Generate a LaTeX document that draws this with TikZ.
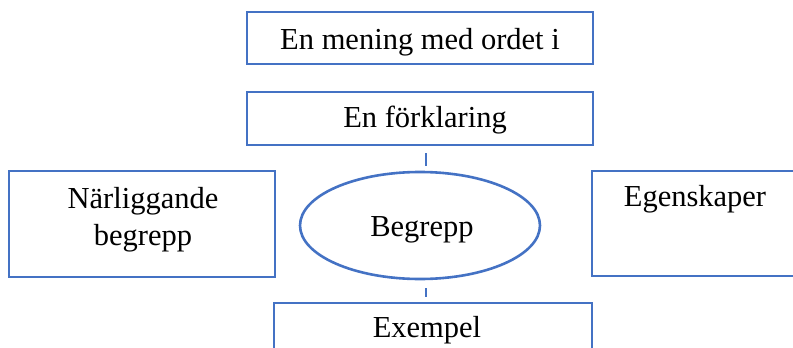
\documentclass[tikz,border=0pt]{standalone}
\usepackage{fontspec}
\setmainfont{Liberation Serif}
\usetikzlibrary{shapes.geometric}
\definecolor{boxblue}{HTML}{4472C4}

\begin{document}
\begin{tikzpicture}[x=1pt, y=-1pt, semithick,
        ruta/.style={draw=boxblue, line width=2.6pt, rectangle, inner sep=0pt},
        ellips/.style={draw=boxblue, line width=2.6pt, ellipse, inner sep=0pt},
        streck/.style={draw=boxblue, line width=2.4pt},
        txt/.style={font=\fontsize{30.5}{37}\selectfont, align=center}]
            \clip (0, 0) rectangle (793, 348);
            \node[ruta, minimum width=346pt, minimum height=52pt] (mening) at (420, 38) {};
            \node[ruta, minimum width=346pt, minimum height=53pt] (forkl) at (420, 118.5) {};
            \node[ruta, minimum width=266pt, minimum height=106pt] (narl) at (142, 224) {};
            \node[ruta, minimum width=210pt, minimum height=105pt] (egen) at (697, 223.5) {};
            \node[ellips, minimum width=240pt, minimum height=107pt] (begr) at (420, 225.5) {};
            \node[ruta, minimum width=318pt, minimum height=80pt] (exempel) at (433, 343) {};
            \node[txt] (meningtext) at (420, 42) {En mening med ordet i};
            \node[txt] (forkltext) at (425, 120) {En förklaring};
            \node[txt] (narltext) at (143, 220) {Närliggande\\begrepp};
            \node[txt] (egentext) at (695, 199) {Egenskaper};
            \node[txt] (begrtext) at (422, 230) {Begrepp};
            \node[txt] (exempeltext) at (427, 330) {Exempel};
            \draw[streck, shorten <=7pt, shorten >=5pt] ([xshift=6pt]forkl.south) -- ([xshift=6pt]begr.north);
            \draw[streck, shorten <=8pt, shorten >=5pt] ([xshift=6pt]begr.south) -- ([xshift=6pt]begr.south |- exempel.north);
        \end{tikzpicture}
\end{document}
